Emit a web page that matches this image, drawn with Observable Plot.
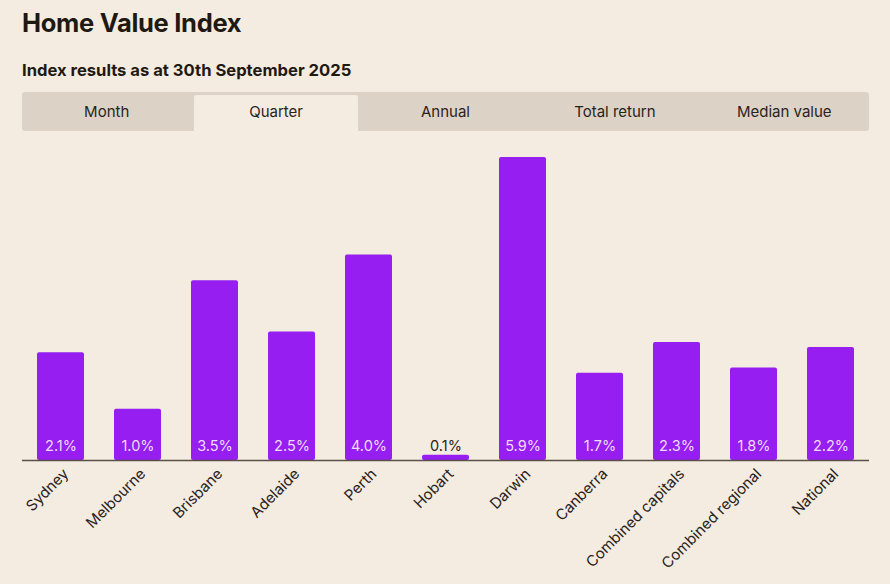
<!DOCTYPE html>
<html>
<head>
<meta charset="utf-8">
<script src="https://cdn.jsdelivr.net/npm/d3@7"></script>
<script src="https://cdn.jsdelivr.net/npm/@observablehq/plot@0.6"></script>
<style>
  html, body { margin: 0; padding: 0; background: #f4ece0; width: 890px; height: 584px; overflow: hidden; font-family: Inter, "Noto Sans", sans-serif; color: #1f1912; }
  #title { position: absolute; left: 22px; top: 7px; font-size: 25.5px; font-weight: 700; letter-spacing: -0.3px; }
  #subtitle { position: absolute; left: 22px; top: 60px; font-size: 16.6px; font-weight: 700; }
  #tabs { position: absolute; left: 22px; top: 92px; width: 847px; height: 39px; background: #dcd3c6; border-radius: 3px; }
  .tab { position: absolute; top: 0; height: 39px; line-height: 39px; text-align: center; font-size: 15px; color: #2a231c; }
  .tab.active { background: #f4ece0; top: 3px; height: 36px; line-height: 33px; border-radius: 3px 3px 0 0; }
  #chart { position: absolute; left: 0; top: 131px; }
</style>
</head>
<body>
<div id="title">Home Value Index</div>
<div id="subtitle">Index results as at 30th September 2025</div>
<div id="tabs"></div>
<div id="chart"></div>
<script>
const tabs = ["Month", "Quarter", "Annual", "Total return", "Median value"];
const activeTab = "Quarter";
const regions = ["Sydney", "Melbourne", "Brisbane", "Adelaide", "Perth", "Hobart", "Darwin", "Canberra", "Combined capitals", "Combined regional", "National"];
const quarterChange = [2.1, 1.0, 3.5, 2.5, 4.0, 0.1, 5.9, 1.7, 2.3, 1.8, 2.2];

const tabBar = document.getElementById("tabs");
const tabW = 847 / tabs.length;
tabs.forEach((t, i) => {
  const d = document.createElement("div");
  d.className = "tab" + (t === activeTab ? " active" : "");
  d.style.left = (i * tabW + (t === activeTab ? 3 : 0)) + "px";
  d.style.width = (tabW - (t === activeTab ? 6 : 0)) + "px";
  d.textContent = t;
  tabBar.appendChild(d);
});

const data = regions.map((r, i) => ({region: r, value: quarterChange[i]}));

const chart = Plot.plot({
  width: 890,
  height: 453,
  marginLeft: 22,
  marginRight: 21,
  marginTop: 26,
  marginBottom: 124,
  style: {background: "transparent", fontFamily: "Inter, 'Noto Sans', sans-serif", fontSize: "15px", color: "#2a231c"},
  x: {domain: regions, paddingInner: 0.39, paddingOuter: 0.195, label: null},
  y: {domain: [0, 5.9], axis: null},
  marks: [
    Plot.barY(data, {x: "region", y: "value", fill: "#961ef0", rx: 2}),
    Plot.ruleY([0], {stroke: "#5a4f44", strokeWidth: 1.5}),
    Plot.axisX({tickRotate: -45, tickSize: 0, tickPadding: 11, dx: 5, label: null, fill: "#2a231c"}),
    Plot.text(data, {
      x: "region", y: 0, dy: -14,
      text: d => d.value.toFixed(1) + "%",
      fill: d => d.value < 0.5 ? "#2a231c" : "#eedcfc",
      fontSize: 14.5
    })
  ]
});
document.getElementById("chart").appendChild(chart);
</script>
</body>
</html>
